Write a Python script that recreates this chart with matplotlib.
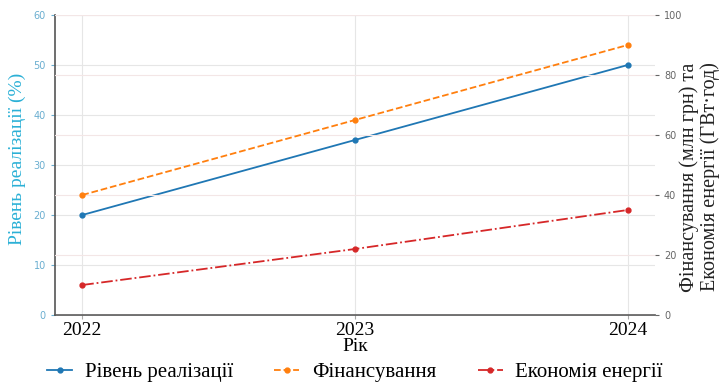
import matplotlib.pyplot as plt
import numpy as np

# data
years = [2022, 2023, 2024]
realization = [20, 35, 50]          # %
funding = [40, 65, 90]              # млн грн
energy_saving = [10, 22, 35]        # ГВт·год

serif = ['Liberation Serif', 'DejaVu Serif']

fig = plt.figure(figsize=(7.21, 3.82), dpi=100)
ax1 = fig.add_axes([55/721, 1 - 315/382, 600/721, 300/382])
ax2 = ax1.twinx()

l1, = ax1.plot(years, realization, color='tab:blue', marker='o', ms=3.5, lw=1.3,
               label='Рівень реалізації')
l2, = ax2.plot(years, funding, color='tab:orange', marker='o', ms=3.5, lw=1.3,
               ls='--', label='Фінансування')
l3, = ax2.plot(years, energy_saving, color='tab:red', marker='o', ms=3.5, lw=1.3,
               ls='-.', label='Економія енергії')

ax1.set_ylim(0, 60)
ax2.set_ylim(0, 100)
ax1.set_yticks(np.arange(0, 61, 10))
ax2.set_yticks(np.arange(0, 101, 20))
ax1.set_xticks(years)
ax1.set_xticklabels([str(y) for y in years], fontfamily=serif, fontsize=14)

ax1.grid(True, color='#e6e6e6', lw=0.8)
ax2.grid(True, axis='y', color='#f3e6e6', lw=0.8)

for sp in ['top', 'right']:
    ax1.spines[sp].set_visible(False)
for sp in ['top', 'right', 'left', 'bottom']:
    ax2.spines[sp].set_visible(False)
ax1.spines['left'].set_color('#555555')
ax1.spines['bottom'].set_color('#555555')
ax1.spines['left'].set_linewidth(1.2)
ax1.spines['bottom'].set_linewidth(1.2)

ax1.tick_params(axis='y', labelsize=7, colors='#6aaed0', length=3)
ax1.tick_params(axis='x', length=3, color='#aaaaaa', pad=2)
ax2.tick_params(axis='y', labelsize=7, colors='#666666', length=3)

ax1.set_ylabel('Рівень реалізації (%)', color='#2bb0d6', fontfamily=serif,
               fontsize=14)
ax1.yaxis.set_label_coords(-0.048, 0.52)
ax2.set_ylabel('Фінансування (млн грн) та\nЕкономія енергії (ГВт·год)',
               fontfamily=serif, fontsize=14.5, color='#222222', linespacing=1.1)
ax2.yaxis.set_label_coords(1.04, 0.46)
ax1.set_xlabel('Рік', fontfamily=serif, fontsize=14, labelpad=-1)

fig.legend(handles=[l1, l2, l3], loc='center', bbox_to_anchor=(355/721, 1 - 372/382),
           ncol=3, frameon=False, prop={'family': serif, 'size': 15},
           handlelength=1.2, columnspacing=2.0, handletextpad=0.6)

fig.savefig('out.png', dpi=100)
